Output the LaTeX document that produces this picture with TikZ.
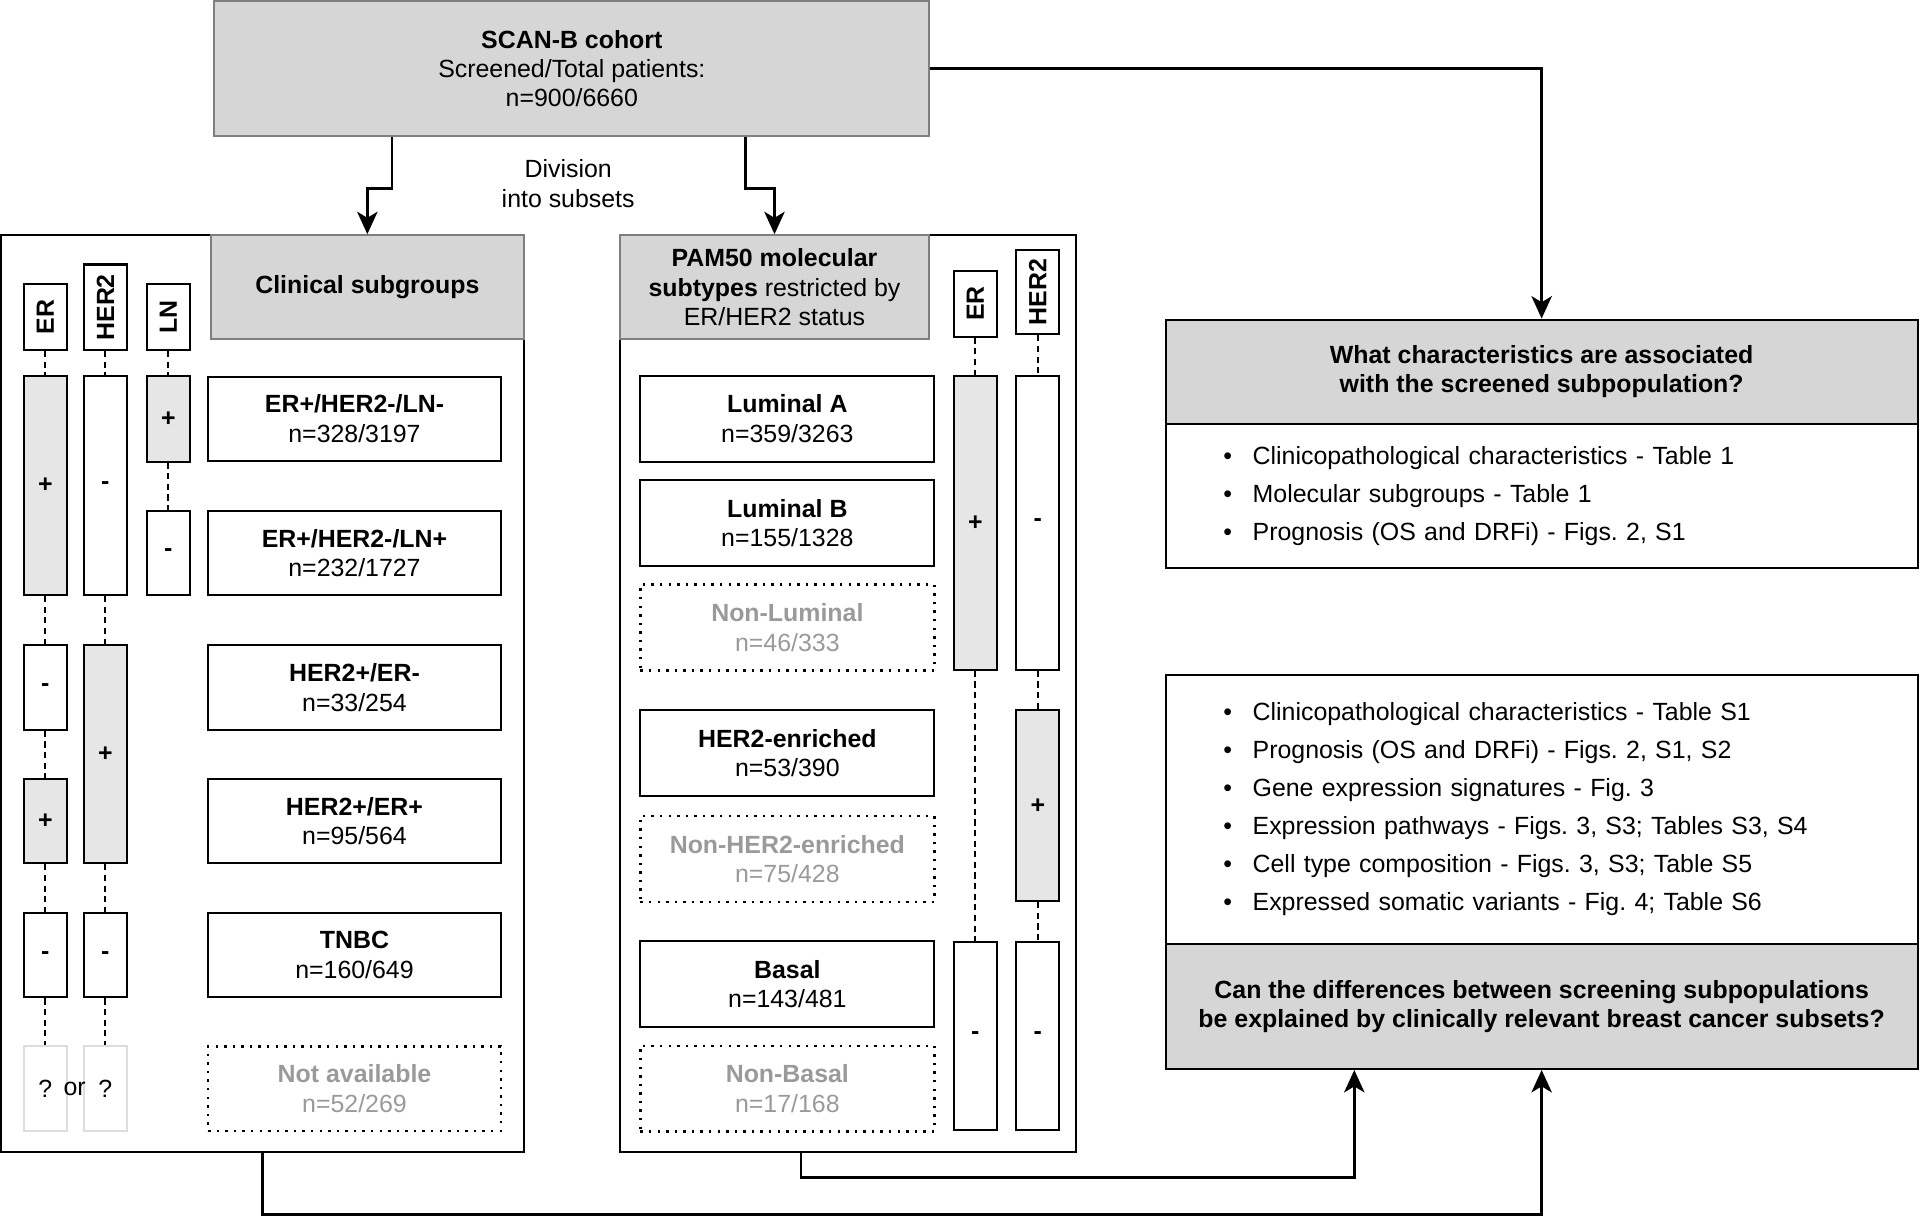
\documentclass[tikz,border=0pt]{standalone}
\usepackage{fontspec}
\setmainfont{Liberation Sans}
\usetikzlibrary{arrows.meta}
\frenchspacing

\definecolor{headgray}{HTML}{D6D6D6}
\definecolor{colgray}{HTML}{E6E6E6}
\definecolor{edgegray}{HTML}{7F7F7F}
\definecolor{fadegray}{HTML}{9A9A9A}
\definecolor{qgray}{HTML}{DDDDDD}

\begin{document}
\begin{tikzpicture}[
  x=0.6pt, y=-0.6pt,
  every node/.style = {font=\fontsize{12.2}{14.4}\selectfont, align=center, inner sep=0pt},
  > = {Stealth[length=11pt,width=10pt,inset=3pt]},
  panel/.style = {draw, line width=0.9pt, minimum height=449.4pt},
  head/.style = {draw=edgegray, fill=headgray, line width=0.9pt, minimum height=51pt},
  sub box/.style = {draw, line width=1pt, minimum width=143.4pt, minimum height=41.4pt},
  pam box/.style = {sub box, minimum width=144pt, minimum height=42pt},
  faded/.style = {draw, dash pattern=on 1.2pt off 3pt, line width=1.2pt, text=fadegray},
  tag/.style = {draw, line width=1pt, fill=white, rotate=90, minimum height=21pt,
    font=\fontsize{12.2}{14.4}\selectfont\bfseries},
  neg col/.style = {draw, line width=1pt, fill=white, minimum width=21pt,
    font=\fontsize{12.2}{14.4}\selectfont\bfseries},
  pos col/.style = {neg col, fill=colgray},
  na col/.style = {draw=qgray, line width=1pt, fill=white, minimum width=21pt, minimum height=41.4pt},
  link/.style = {dash pattern=on 3pt off 2.2pt, line width=0.9pt},
  flow/.style = {->, line width=1.3pt},
  qhead/.style = {draw, fill=headgray, line width=1pt, minimum width=368.4pt,
    font=\fontsize{12.2}{14.4}\selectfont\bfseries},
  list/.style = {draw, line width=1pt, text width=312pt, inner xsep=28.2pt, align=left,
    font=\fontsize{12.2}{18.6}\selectfont}
  ]
	\useasboundingbox (0,0) rectangle (1568,993);

	\node[panel, minimum width=256.2pt] (left) at (214.5,566.5) {};
	\node[panel, minimum width=223.8pt] (mid) at (692.5,566.5) {};

	\node[head, minimum width=350.4pt, minimum height=66pt] (scan) at (467,56)
		{\textbf{SCAN-B cohort}\\Screened/Total patients:\\n=900/6660};
	\node (div) at (464,150) {Division\\into subsets};
	\node[head, minimum width=153.6pt] (clin) at (300,234.5) {\textbf{Clinical subgroups}};
	\node[head, minimum width=151.8pt] (pam) at (632.5,234.5)
		{\textbf{PAM50 molecular}\\\textbf{subtypes} restricted by\\ER/HER2 status};

	% clinical subgroups
	\node[tag, minimum width=32.4pt] (erL) at (37,259) {ER};
	\node[tag, minimum width=42pt] (herL) at (86,251) {HER2};
	\node[tag, minimum width=32.4pt] (lnL) at (137.5,259) {LN};

	\node[pos col, minimum height=107.4pt] (erA) at (37,396.5) {+};
	\node[neg col, minimum height=41.4pt] (erB) at (37,561.5) {-};
	\node[pos col, minimum height=41.4pt] (erC) at (37,670.5) {+};
	\node[neg col, minimum height=41.4pt] (erD) at (37,780) {-};
	\node[na col] (erE) at (37,889) {?};

	\node[neg col, minimum height=107.4pt] (herA) at (86,396.5) {-};
	\node[pos col, minimum height=106.8pt] (herB) at (86,616) {+};
	\node[neg col, minimum height=41.4pt] (herC) at (86,780) {-};
	\node[na col] (herD) at (86,889) {?};
	\node (or) at (61,889) {or};

	\node[pos col, minimum height=42pt] (lnA) at (137.5,342) {+};
	\node[neg col, minimum height=41.4pt] (lnB) at (137.5,451.5) {-};

	\node[sub box] (s1) at (289.5,342) {\textbf{ER+/HER2-/LN-}\\n=328/3197};
	\node[sub box] (s2) at (289.5,451.5) {\textbf{ER+/HER2-/LN+}\\n=232/1727};
	\node[sub box] (s3) at (289.5,561.5) {\textbf{HER2+/ER-}\\n=33/254};
	\node[sub box] (s4) at (289.5,670.5) {\textbf{HER2+/ER+}\\n=95/564};
	\node[sub box] (s5) at (289.5,780) {\textbf{TNBC}\\n=160/649};
	\node[sub box, faded] (s6) at (289.5,889) {\textbf{Not available}\\n=52/269};

	\draw[link] (erL) -- (erA) -- (erB) -- (erC) -- (erD) -- (erE);
	\draw[link] (herL) -- (herA) -- (herB) -- (herC) -- (herD);
	\draw[link] (lnL) -- (lnA) -- (lnB);

	% PAM50 subtypes
	\node[pam box] (p1) at (643,342) {\textbf{Luminal A}\\n=359/3263};
	\node[pam box] (p2) at (643,427) {\textbf{Luminal B}\\n=155/1328};
	\node[pam box, faded] (p3) at (643,512.5) {\textbf{Non-Luminal}\\n=46/333};
	\node[pam box] (p4) at (643,615) {\textbf{HER2-enriched}\\n=53/390};
	\node[pam box, faded] (p5) at (643,701.5) {\textbf{Non-HER2-enriched}\\n=75/428};
	\node[pam box] (p6) at (643,803.5) {\textbf{Basal}\\n=143/481};
	\node[pam box, faded] (p7) at (643,889) {\textbf{Non-Basal}\\n=17/168};

	\node[tag, minimum width=32.4pt] (mErL) at (796.5,248) {ER};
	\node[tag, minimum width=41.4pt] (mHerL) at (847.5,238.5) {HER2};

	\node[pos col, minimum height=144pt] (mErA) at (796.5,427) {+};
	\node[neg col, minimum height=92.4pt] (mErB) at (796.5,846) {-};
	\node[neg col, minimum height=144pt] (mHerA) at (847.5,427) {-};
	\node[pos col, minimum height=93.6pt] (mHerB) at (847.5,658) {+};
	\node[neg col, minimum height=92.4pt] (mHerC) at (847.5,846) {-};

	\draw[link] (mErL) -- (mErA) -- (mErB);
	\draw[link] (mHerL) -- (mHerA) -- (mHerB) -- (mHerC);

	% questions
	\node[qhead, minimum height=51pt] (q1) at (1259,303.5)
		{What characteristics are associated\\with the screened subpopulation?};
	\node[list, minimum height=70.8pt] (list1) at (1259,405)
		{\makebox[14.4pt][l]{\textbullet}Clinicopathological characteristics - Table 1\\
		 \makebox[14.4pt][l]{\textbullet}Molecular subgroups - Table 1\\
		 \makebox[14.4pt][l]{\textbullet}Prognosis (OS and DRFi) - Figs. 2, S1};
	\node[list, minimum height=132pt] (list2) at (1259,661)
		{\makebox[14.4pt][l]{\textbullet}Clinicopathological characteristics - Table S1\\
		 \makebox[14.4pt][l]{\textbullet}Prognosis (OS and DRFi) - Figs. 2, S1, S2\\
		 \makebox[14.4pt][l]{\textbullet}Gene expression signatures - Fig. 3\\
		 \makebox[14.4pt][l]{\textbullet}Expression pathways - Figs. 3, S3; Tables S3, S4\\
		 \makebox[14.4pt][l]{\textbullet}Cell type composition - Figs. 3, S3; Table S5\\
		 \makebox[14.4pt][l]{\textbullet}Expressed somatic variants - Fig. 4; Table S6};
	\node[qhead, minimum height=61.2pt] (q2) at (1259,822)
		{Can the differences between screening subpopulations\\be explained by clinically relevant breast cancer subsets?};

	\draw[flow] ([xshift=-88.2pt]scan.south) -- ++(0,42) -| (clin.north);
	\draw[flow] ([xshift=85.2pt]scan.south) -- ++(0,42) -| (pam.north);
	\draw[flow] (scan.east) -| (q1.north);
	\draw[flow] (left.south) -- ++(0,50) -| (q2.south);
	\draw[flow] ([xshift=-23.1pt]mid.south) -- ++(0,20) -| ([xshift=-91.8pt]q2.south);

\end{tikzpicture}
\end{document}
